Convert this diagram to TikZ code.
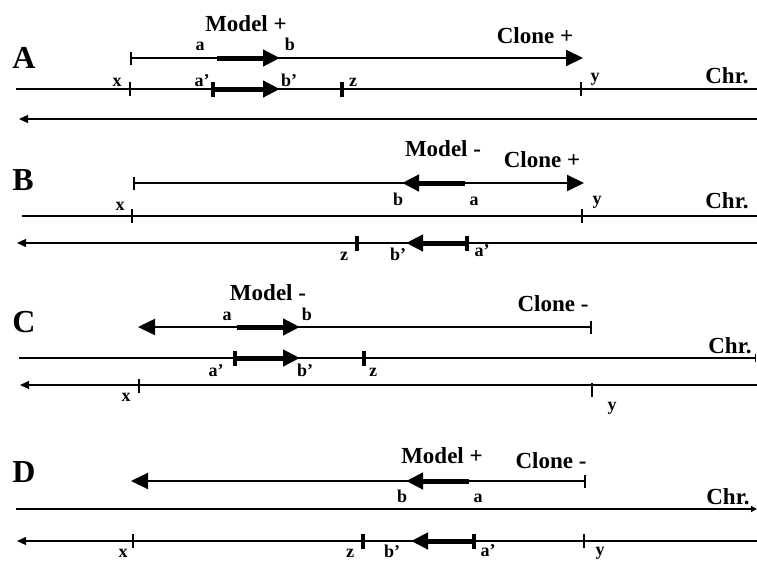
\documentclass[tikz,border=0pt]{standalone}
\usepackage{fontspec}
\setmainfont{Liberation Serif}
\usetikzlibrary{arrows.meta}

\begin{document}
\begin{tikzpicture}[
      x=1pt, y=-1pt,
      chr/.style={line width=1.2pt},
      strand/.style={chr, -{Triangle[length=9pt,width=8pt]}},
      clone/.style={line width=2pt, {Bar[width=13pt]}-{Triangle[length=17pt,width=16pt]}},
      model/.style={line width=5pt, -{Triangle[length=17pt,width=16pt]}},
      thintick/.style={fill=black, minimum width=1.6pt, minimum height=14pt, inner sep=0pt},
      thickbar/.style={thintick, minimum width=4.6pt, minimum height=15pt},
      panel/.style={anchor=base, font=\fontsize{32}{36}\selectfont\bfseries},
      title/.style={anchor=base, font=\fontsize{23}{27}\selectfont\bfseries},
      lbl/.style={anchor=base, font=\fontsize{18}{21}\selectfont\bfseries}
    ]
    \useasboundingbox (0,0) rectangle (757,562);

    % Panel A
    \node[panel] (labA) at (24,68) {A};
    \coordinate (cloneA-s) at (130,58);
    \coordinate (cloneA-e) at (583,58);
    \coordinate (modelA-a) at (217,58);
    \coordinate (modelA-b) at (280,58);
    \draw[clone] (cloneA-s) -- (cloneA-e);
    \draw[model] (modelA-a) -- (modelA-b);
    \coordinate (chrA-l) at (16,89);
    \coordinate (chrA-r) at (757,89);
    \draw[chr] (chrA-l) -- (chrA-r);
    \node[thintick] (xA) at (130,89) {};
    \node[thintick] (yA) at (581,89) {};
    \node[thickbar] (apA) at (213,89) {};
    \node[thickbar] (zA) at (342,89) {};
    \coordinate (bpA) at (280,89);
    \draw[model] (apA.center) -- (bpA);
    \coordinate (strA-r) at (757,119);
    \coordinate (strA-l) at (19,119);
    \draw[strand] (strA-r) -- (strA-l);
    \node[title] (modA) at (246,31) {Model +};
    \node[title] (cloA) at (535,43) {Clone +};
    \node[lbl] (aA) at (200,50) {a};
    \node[lbl] (bA) at (290,50) {b};
    \node[lbl] (xlA) at (117,86) {x};
    \node[lbl] (aplA) at (202,86) {a'};
    \node[lbl] (bplA) at (289,86) {b'};
    \node[lbl] (zlA) at (353,86) {z};
    \node[lbl] (ylA) at (595,81) {y};
    \node[title] (chrlA) at (727,83) {Chr.};

    % Panel B
    \node[panel] (labB) at (23,190) {B};
    \coordinate (cloneB-s) at (133,183);
    \coordinate (cloneB-e) at (584,183);
    \coordinate (modelB-a) at (465,183);
    \coordinate (modelB-b) at (402,183);
    \draw[clone] (cloneB-s) -- (cloneB-e);
    \draw[model] (modelB-a) -- (modelB-b);
    \coordinate (chrB-l) at (22,216);
    \coordinate (chrB-r) at (757,216);
    \draw[chr] (chrB-l) -- (chrB-r);
    \node[thintick] (xB) at (132,216) {};
    \node[thintick] (yB) at (582,216) {};
    \coordinate (strB-r) at (757,243);
    \coordinate (strB-l) at (17,243);
    \draw[strand] (strB-r) -- (strB-l);
    \node[thickbar] (zB) at (357,243) {};
    \node[thickbar] (apB) at (467,243) {};
    \coordinate (bpB) at (406,243);
    \draw[model] (apB.center) -- (bpB);
    \node[title] (modB) at (443,156) {Model -};
    \node[title] (cloB) at (542,167) {Clone +};
    \node[lbl] (bB) at (398,205) {b};
    \node[lbl] (aB) at (474,205) {a};
    \node[lbl] (xlB) at (120,210) {x};
    \node[lbl] (ylB) at (597,204) {y};
    \node[title] (chrlB) at (727,208) {Chr.};
    \node[lbl] (zlB) at (344,260) {z};
    \node[lbl] (bplB) at (398,260) {b'};
    \node[lbl] (aplB) at (482,256) {a'};

    % Panel C
    \node[panel] (labC) at (24,332) {C};
    \coordinate (cloneC-s) at (592,327);
    \coordinate (cloneC-e) at (138,327);
    \coordinate (modelC-a) at (237,327);
    \coordinate (modelC-b) at (300,327);
    \draw[clone] (cloneC-s) -- (cloneC-e);
    \draw[model] (modelC-a) -- (modelC-b);
    \coordinate (chrC-l) at (19,358);
    \coordinate (chrC-r) at (756,358);
    \draw[chr, -{Bar[width=8pt]}] (chrC-l) -- (chrC-r);
    \node[thickbar] (apC) at (235,358) {};
    \node[thickbar] (zC) at (364,358) {};
    \coordinate (bpC) at (300,358);
    \draw[model] (apC.center) -- (bpC);
    \coordinate (strC-r) at (757,385);
    \coordinate (strC-l) at (20,385);
    \draw[strand] (strC-r) -- (strC-l);
    \node[thintick] (xC) at (139,386) {};
    \node[thintick] (yC) at (592,390) {};
    \node[title] (modC) at (268,300) {Model -};
    \node[title] (cloC) at (553,311) {Clone -};
    \node[lbl] (aC) at (227,320) {a};
    \node[lbl] (bC) at (307,320) {b};
    \node[title] (chrlC) at (730,353) {Chr.};
    \node[lbl] (aplC) at (216,376) {a'};
    \node[lbl] (bplC) at (305,376) {b'};
    \node[lbl] (zlC) at (373,376) {z};
    \node[lbl] (xlC) at (126,401) {x};
    \node[lbl] (ylC) at (612,410) {y};

    % Panel D
    \node[panel] (labD) at (24,482) {D};
    \coordinate (cloneD-s) at (586,481);
    \coordinate (cloneD-e) at (131,481);
    \coordinate (modelD-a) at (469,481);
    \coordinate (modelD-b) at (406,481);
    \draw[clone] (cloneD-s) -- (cloneD-e);
    \draw[model] (modelD-a) -- (modelD-b);
    \coordinate (chrD-l) at (16,509);
    \coordinate (chrD-r) at (757,509);
    \draw[chr, -{Triangle[length=6pt,width=6pt]}] (chrD-l) -- (chrD-r);
    \coordinate (strD-r) at (757,541);
    \coordinate (strD-l) at (17,541);
    \draw[strand] (strD-r) -- (strD-l);
    \node[thintick] (xD) at (133,541) {};
    \node[thickbar] (zD) at (363,541) {};
    \node[thickbar] (apD) at (474,541) {};
    \node[thintick] (yD) at (584,541) {};
    \coordinate (bpD) at (411,541);
    \draw[model] (apD.center) -- (bpD);
    \node[title] (modD) at (442,463) {Model +};
    \node[title] (cloD) at (551,468) {Clone -};
    \node[lbl] (bD) at (402,502) {b};
    \node[lbl] (aD) at (478,502) {a};
    \node[title] (chrlD) at (728,504) {Chr.};
    \node[lbl] (xlD) at (123,557) {x};
    \node[lbl] (zlD) at (350,557) {z};
    \node[lbl] (bplD) at (392,557) {b'};
    \node[lbl] (aplD) at (488,556) {a'};
    \node[lbl] (ylD) at (600,555) {y};
  \end{tikzpicture}
\end{document}
